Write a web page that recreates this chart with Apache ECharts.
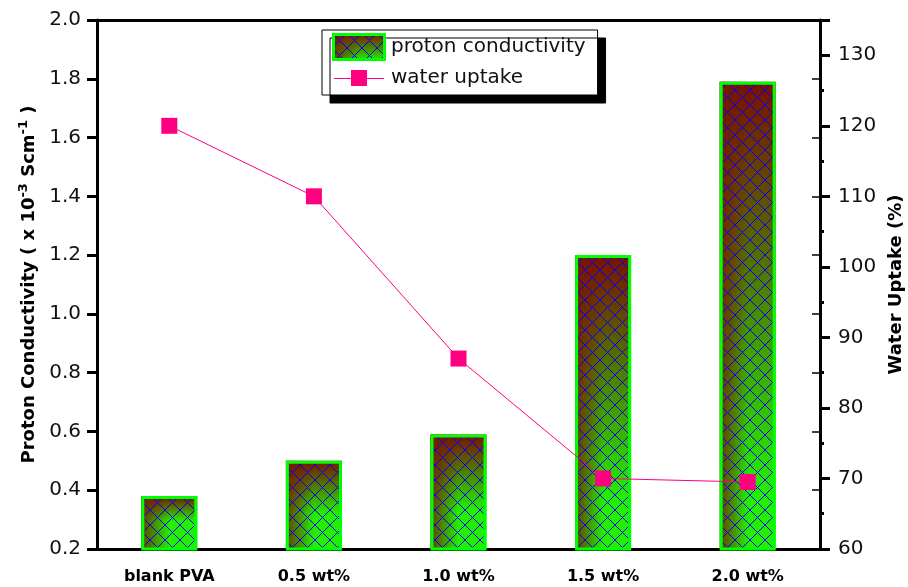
<html>
<head>
    <meta charset="utf-8">
    <title>Proton conductivity and water uptake</title>
    <script src="https://cdn.jsdelivr.net/npm/echarts@6.0.0/dist/echarts.min.js"></script>
</head>
<body style="margin:0">
    <div id="main" style="width: 908px; height: 587px;"></div>
    <script type="text/javascript">
        // data
        var categories = ['blank PVA', '0.5 wt%', '1.0 wt%', '1.5 wt%', '2.0 wt%'];
        var conductivity = [0.38, 0.50, 0.59, 1.20, 1.79];
        var waterUptake = [120, 110, 87, 70.0, 69.5];
        var leftTicks = { min: 0.2, max: 2.0, interval: 0.2 };
        var rightTicks = { min: 60, max: 135, interval: 10 };

        var FONT = 'DejaVu Sans';
        var RED = '#7a1000';
        var GREEN = '#22f000';
        var SHADE = 'rgba(120,24,0,0.85)';
        var PINK = '#ff0080';

        // blue cross hatch pattern
        function makeHatch() {
            var c = document.createElement('canvas');
            c.width = 15; c.height = 15;
            var ctx = c.getContext('2d');
            ctx.strokeStyle = '#0000ff';
            ctx.lineWidth = 1;
            ctx.beginPath();
            ctx.moveTo(-1, -1); ctx.lineTo(16, 16);
            ctx.moveTo(16, -1); ctx.lineTo(-1, 16);
            ctx.stroke();
            return c;
        }
        var hatch = makeHatch();

        // legend icon: gradient + hatch + green border
        function makeBarIcon() {
            var c = document.createElement('canvas');
            c.width = 54; c.height = 28;
            var ctx = c.getContext('2d');
            var g = ctx.createLinearGradient(0, 0, 0, 28);
            g.addColorStop(0, RED); g.addColorStop(1, GREEN);
            ctx.fillStyle = g; ctx.fillRect(0, 0, 54, 28);
            var h = ctx.createLinearGradient(0, 0, 54, 0);
            h.addColorStop(0, SHADE); h.addColorStop(0.5, 'rgba(120,24,0,0)');
            ctx.fillStyle = h; ctx.fillRect(0, 0, 54, 28);
            ctx.fillStyle = ctx.createPattern(hatch, 'repeat');
            ctx.fillRect(0, 0, 54, 28);
            ctx.strokeStyle = '#00ff00'; ctx.lineWidth = 3;
            ctx.strokeRect(1.5, 1.5, 51, 25);
            return c.toDataURL();
        }

        // legend icon: pink line with square marker
        function makeLineIcon() {
            var c = document.createElement('canvas');
            c.width = 54; c.height = 28;
            var ctx = c.getContext('2d');
            ctx.strokeStyle = PINK; ctx.lineWidth = 1;
            ctx.beginPath(); ctx.moveTo(2, 14.5); ctx.lineTo(52, 14.5); ctx.stroke();
            ctx.fillStyle = PINK; ctx.fillRect(19, 6, 16, 16);
            return c.toDataURL();
        }

        var chart = echarts.init(document.getElementById('main'));

        var option = {
            animation: false,
            backgroundColor: '#fff',
            grid: { left: 97, right: 88, top: 20, bottom: 38, outerBoundsMode: 'none', containLabel: false },
            legend: {
                left: 322, top: 30,
                orient: 'vertical',
                itemWidth: 54, itemHeight: 28, itemGap: 3,
                padding: [3, 12, 3, 10],
                backgroundColor: '#fff',
                borderColor: '#000', borderWidth: 1, borderRadius: 0,
                shadowColor: '#000', shadowBlur: 0, shadowOffsetX: 8, shadowOffsetY: 8,
                textStyle: { fontFamily: FONT, fontSize: 20, color: '#111' },
                data: [
                    { name: 'proton conductivity', icon: 'image://' + makeBarIcon() },
                    { name: 'water uptake', icon: 'image://' + makeLineIcon() }
                ]
            },
            xAxis: [{
                type: 'category',
                data: categories,
                position: 'bottom',
                axisLine: { lineStyle: { color: '#000', width: 3 } },
                axisTick: { alignWithLabel: true, length: 8, lineStyle: { width: 3, color: '#000' } },
                axisLabel: { fontFamily: FONT, fontWeight: 'bold', fontSize: 16, color: '#000', margin: 20 }
            }, {
                type: 'category',
                data: categories,
                position: 'top',
                axisLine: { lineStyle: { color: '#000', width: 3 } },
                axisTick: { show: false },
                axisLabel: { show: false }
            }],
            yAxis: [{
                type: 'value',
                position: 'left',
                min: leftTicks.min, max: leftTicks.max, interval: leftTicks.interval,
                name: 'Proton Conductivity ( x 10{sup|-3} Scm{sup|-1} )',
                nameLocation: 'middle',
                nameGap: 50,
                nameTextStyle: {
                    fontFamily: FONT, fontWeight: 'bold', fontSize: 18, color: '#000',
                    rich: { sup: { fontFamily: FONT, fontWeight: 'bold', fontSize: 13, color: '#000', padding: [0, 0, 12, 0] } }
                },
                axisLine: { show: true, lineStyle: { color: '#000', width: 3 } },
                axisTick: { show: true, length: 10, lineStyle: { width: 3, color: '#000' } },
                axisLabel: {
                    fontFamily: FONT, fontSize: 20, color: '#111', margin: 16,
                    formatter: function (v) { return v.toFixed(1); }
                },
                splitLine: { show: false }
            }, {
                type: 'value',
                position: 'right',
                min: rightTicks.min, max: rightTicks.max, interval: rightTicks.interval,
                name: 'Water Uptake (%)',
                nameLocation: 'middle',
                nameGap: 52,
                nameTextStyle: { fontFamily: FONT, fontWeight: 'bold', fontSize: 18, color: '#000' },
                axisLine: { show: true, lineStyle: { color: '#000', width: 3 } },
                axisTick: { show: true, length: 10, lineStyle: { width: 3, color: '#000' } },
                minorTick: { show: true, splitNumber: 2, length: 4, lineStyle: { width: 3, color: '#000' } },
                axisLabel: { fontFamily: FONT, fontSize: 20, color: '#111', margin: 18, showMaxLabel: false },
                splitLine: { show: false }
            }, {
                // left axis ticks mirrored on the right side
                type: 'value',
                position: 'right',
                min: leftTicks.min, max: leftTicks.max, interval: leftTicks.interval,
                axisLine: { show: false },
                axisTick: { show: true, inside: true, length: 8, lineStyle: { width: 1.5, color: '#000' } },
                axisLabel: { show: false },
                splitLine: { show: false }
            }],
            series: [{
                name: 'proton conductivity',
                type: 'bar',
                yAxisIndex: 0,
                barWidth: 56,
                barGap: '-100%',
                data: conductivity,
                itemStyle: {
                    // bars start at 0, so fit the gradient to the visible part
                    color: function (p) {
                        var f = (p.value - leftTicks.min) / p.value;
                        return new echarts.graphic.LinearGradient(0, 0, 0, 1, [
                            { offset: 0, color: RED },
                            { offset: f, color: GREEN },
                            { offset: 1, color: GREEN }
                        ]);
                    }
                }
            }, {
                name: 'shade',
                type: 'bar',
                yAxisIndex: 0,
                barWidth: 56,
                barGap: '-100%',
                data: conductivity,
                itemStyle: {
                    color: new echarts.graphic.LinearGradient(0, 0, 1, 0, [
                        { offset: 0, color: SHADE },
                        { offset: 0.5, color: 'rgba(120,24,0,0)' }
                    ])
                }
            }, {
                name: 'hatch',
                type: 'bar',
                yAxisIndex: 0,
                barWidth: 56,
                barGap: '-100%',
                data: conductivity,
                itemStyle: {
                    color: { image: hatch, repeat: 'repeat' },
                    borderColor: '#00ff00',
                    borderWidth: 3
                }
            }, {
                name: 'water uptake',
                type: 'line',
                yAxisIndex: 1,
                data: waterUptake,
                symbol: 'rect',
                symbolSize: 16,
                itemStyle: { color: PINK },
                lineStyle: { color: PINK, width: 1 },
                z: 5
            }]
        };
        chart.setOption(option);
    </script>
</body>
</html>
